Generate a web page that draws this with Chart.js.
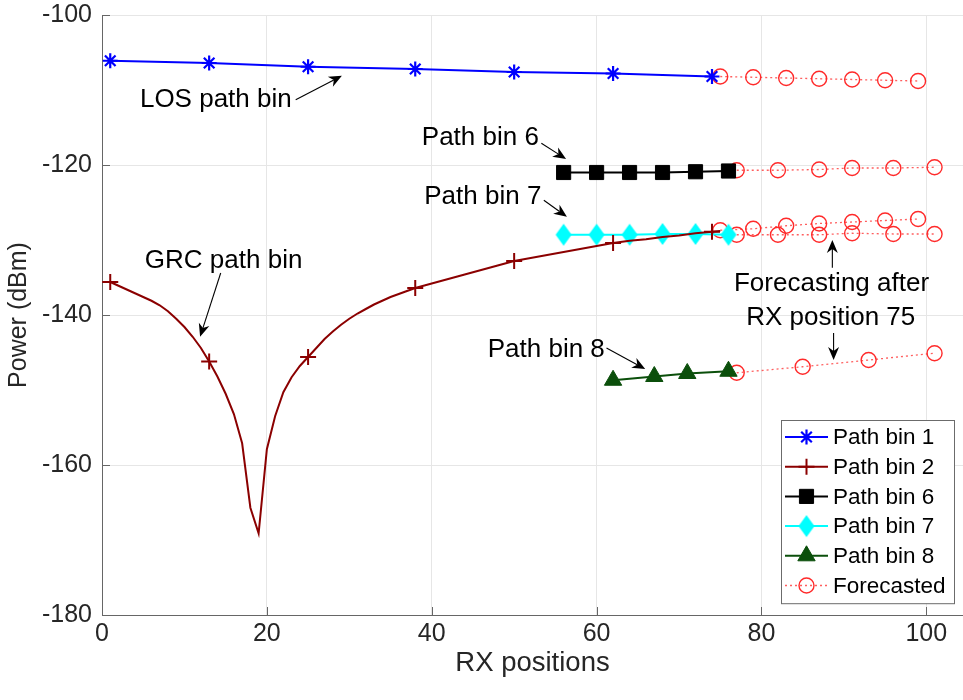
<!DOCTYPE html>
<html>
<head>
<meta charset="utf-8">
<script src="https://cdn.jsdelivr.net/npm/chart.js@4.4.1/dist/chart.umd.min.js"></script>
<style>
  html, body { margin: 0; background: #fff; }
  canvas { display: block; }
</style>
</head>
<body>
<canvas id="c" width="963" height="700"></canvas>
<script>
  // ---------- data ----------
  var xTicks = [0, 20, 40, 60, 80, 100];
  var yTicks = [-180, -160, -140, -120, -100];

  // Path bin 1 (LOS)
  var bin1X = [1, 13, 25, 38, 50, 62, 74];
  var bin1Y = [-106.1, -106.4, -106.9, -107.2, -107.6, -107.8, -108.2];

  // Path bin 2 (GRC) - dense curve, markers only at some positions
  var grcX = [1, 2, 3, 4, 5, 6, 7, 8, 9, 10, 11, 12, 13, 14, 15, 16, 17, 18, 19, 20,
              21, 22, 23, 24, 25, 26, 27, 28, 29, 30, 31, 32, 33, 34, 35, 36, 37, 38, 39, 40,
              42, 44, 46, 48, 50, 52, 54, 56, 58, 60, 62, 64, 66, 68, 70, 72, 74, 75];
  var grcY = [-135.6, -136.1, -136.6, -137.1, -137.6, -138.1, -138.7, -139.5, -140.5, -141.6,
              -142.9, -144.4, -146.2, -148.2, -150.5, -153.2, -157.1, -165.7, -169.1, -157.9,
              -153.5, -150.3, -148.3, -146.8, -145.6, -144.4, -143.2, -142.2, -141.3, -140.5,
              -139.8, -139.2, -138.6, -138.1, -137.6, -137.2, -136.8, -136.4, -136.1, -135.8,
              -135.2, -134.6, -134.0, -133.4, -132.8, -132.4, -132.0, -131.6, -131.2, -130.8,
              -130.4, -130.1, -129.9, -129.6, -129.4, -129.1, -128.9, -128.8];
  var grcMarkX = [1, 13, 25, 38, 50, 62, 74];

  // Path bins 6, 7, 8
  var bin6X = [56, 60, 64, 68, 72, 76];
  var bin6Y = [-121.0, -121.0, -121.0, -121.0, -120.9, -120.8];
  var bin7X = [56, 60, 64, 68, 72, 76];
  var bin7Y = [-129.3, -129.3, -129.3, -129.2, -129.2, -129.3];
  var bin8X = [62, 67, 71, 76];
  var bin8Y = [-148.7, -148.2, -147.8, -147.5];

  // Forecasted values after RX position 75
  var fc1X = [75, 79, 83, 87, 91, 95, 99];
  var fc1Y = [-108.2, -108.3, -108.4, -108.5, -108.6, -108.7, -108.8];
  var fc2X = [75, 79, 83, 87, 91, 95, 99];
  var fc2Y = [-128.7, -128.5, -128.1, -127.8, -127.6, -127.4, -127.2];
  var fc6X = [77, 82, 87, 91, 96, 101];
  var fc6Y = [-120.7, -120.7, -120.6, -120.4, -120.4, -120.3];
  var fc7X = [77, 82, 87, 91, 96, 101];
  var fc7Y = [-129.3, -129.3, -129.3, -129.1, -129.2, -129.2];
  var fc8X = [77, 85, 93, 101];
  var fc8Y = [-147.7, -146.9, -146.0, -145.1];

  // annotations (data coordinates)
  var notes = [
    { text: "LOS path bin", x: 4.6, y: -111.3, align: "left" },
    { text: "Path bin 6", x: 53.0, y: -116.4, align: "right" },
    { text: "Path bin 7", x: 53.3, y: -124.3, align: "right" },
    { text: "GRC path bin", x: 5.2, y: -132.8, align: "left" },
    { text: "Forecasting after", x: 88.5, y: -135.9, align: "center" },
    { text: "RX position 75", x: 88.4, y: -140.4, align: "center" },
    { text: "Path bin 8", x: 61.0, y: -144.7, align: "right" }
  ];
  var arrows = [
    { x0: 23.5, y0: -111.3, x1: 29.1, y1: -108.1 },
    { x0: 53.3, y0: -117.1, x1: 56.3, y1: -119.2 },
    { x0: 53.6, y0: -124.7, x1: 56.4, y1: -126.9 },
    { x0: 14.4, y0: -134.4, x1: 11.9, y1: -142.9 },
    { x0: 88.6, y0: -133.7, x1: 88.6, y1: -130.0 },
    { x0: 88.75, y0: -142.4, x1: 88.75, y1: -146.0 },
    { x0: 61.2, y0: -144.4, x1: 65.9, y1: -147.2 }
  ];

  // ---------- helpers ----------
  var $ = function (id) { return document.getElementById(id); };
  function pts(xs, ys) { return xs.map(function (x, i) { return { x: x, y: ys[i] }; }); }
  var FONT = "'Liberation Sans', Arial, Helvetica, sans-serif";
  var INK = "#262626";

  // tall diamond marker like MATLAB's 'd'
  var diamond = document.createElement("canvas");
  diamond.width = 18; diamond.height = 24;
  (function (g) {
    g.fillStyle = "#00ffff";
    g.beginPath(); g.moveTo(9, 1); g.lineTo(17, 12); g.lineTo(9, 23); g.lineTo(1, 12); g.closePath(); g.fill();
  })(diamond.getContext("2d"));

  function forecast(xs, ys, inLegend) {
    return {
      label: "Forecasted", legend: inLegend, data: pts(xs, ys),
      borderColor: "rgba(255,40,40,0.75)", borderWidth: 1.3, borderDash: [2, 3],
      pointStyle: "circle", pointRadius: 7.5, pointBorderColor: "#ff2a2a",
      pointBorderWidth: 1.4, pointBackgroundColor: "rgba(0,0,0,0)"
    };
  }

  var datasets = [
    { label: "Path bin 1", legend: true, data: pts(bin1X, bin1Y),
      borderColor: "#0000ff", borderWidth: 2, pointStyle: "star", pointRadius: 7.5,
      pointBorderColor: "#0000ff", pointBorderWidth: 2.2, pointBackgroundColor: "#0000ff" },
    { label: "Path bin 2", legend: true, data: pts(grcX, grcY),
      borderColor: "#8b0000", borderWidth: 2, pointStyle: "cross",
      pointRadius: function (c) { return c.raw && grcMarkX.indexOf(c.raw.x) >= 0 ? 8 : 0; },
      pointBorderColor: "#8b0000", pointBorderWidth: 2, pointBackgroundColor: "#8b0000" },
    { label: "Path bin 6", legend: true, data: pts(bin6X, bin6Y),
      borderColor: "#000", borderWidth: 2, pointStyle: "rect", pointRadius: 10,
      pointBorderColor: "#000", pointBorderWidth: 1, pointBackgroundColor: "#000" },
    { label: "Path bin 7", legend: true, data: pts(bin7X, bin7Y),
      borderColor: "#00ffff", borderWidth: 2, pointStyle: diamond, pointRadius: 10,
      pointBorderColor: "#00ffff", pointBorderWidth: 1, pointBackgroundColor: "#00ffff" },
    { label: "Path bin 8", legend: true, data: pts(bin8X, bin8Y),
      borderColor: "#0b4f0b", borderWidth: 2, pointStyle: "triangle", pointRadius: 10,
      pointBorderColor: "#0b4f0b", pointBorderWidth: 1, pointBackgroundColor: "#0b4f0b" },
    forecast(fc1X, fc1Y, true),
    forecast(fc2X, fc2Y, false),
    forecast(fc6X, fc6Y, false),
    forecast(fc7X, fc7Y, false),
    forecast(fc8X, fc8Y, false)
  ];
  datasets.forEach(function (d) { d.showLine = true; d.tension = 0; d.fill = false; });

  /* ---------- inward ticks, annotations, legend ---------- */
  var extras = {
    id: "extras",
    afterDraw: function (chart) {
      var ctx = chart.ctx, a = chart.chartArea, sx = chart.scales.x, sy = chart.scales.y;
      ctx.save();
      // inward tick marks
      ctx.strokeStyle = "#666"; ctx.lineWidth = 1;
      xTicks.forEach(function (v) {
        var p = Math.round(sx.getPixelForValue(v)) + 0.5;
        ctx.beginPath(); ctx.moveTo(p, a.bottom); ctx.lineTo(p, a.bottom - 8); ctx.stroke();
      });
      yTicks.forEach(function (v) {
        var p = Math.round(sy.getPixelForValue(v)) + 0.5;
        ctx.beginPath(); ctx.moveTo(a.left, p); ctx.lineTo(a.left + 8, p); ctx.stroke();
      });

      // annotation texts
      ctx.fillStyle = "#000";
      ctx.font = "26px " + FONT;
      ctx.textBaseline = "middle";
      notes.forEach(function (n) {
        ctx.textAlign = n.align;
        ctx.fillText(n.text, sx.getPixelForValue(n.x), sy.getPixelForValue(n.y));
      });
      // arrows
      arrows.forEach(function (r) {
        var x0 = sx.getPixelForValue(r.x0), y0 = sy.getPixelForValue(r.y0);
        var x1 = sx.getPixelForValue(r.x1), y1 = sy.getPixelForValue(r.y1);
        var ang = Math.atan2(y1 - y0, x1 - x0), L = 13, W = 5.5;
        var bx = x1 - L * Math.cos(ang), by = y1 - L * Math.sin(ang);
        var nx = x1 - L * 0.7 * Math.cos(ang), ny = y1 - L * 0.7 * Math.sin(ang);
        ctx.strokeStyle = "#000"; ctx.lineWidth = 1.1;
        ctx.beginPath(); ctx.moveTo(x0, y0); ctx.lineTo(nx, ny); ctx.stroke();
        ctx.beginPath();
        ctx.moveTo(x1, y1);
        ctx.lineTo(bx + W * Math.sin(ang), by - W * Math.cos(ang));
        ctx.lineTo(nx, ny);
        ctx.lineTo(bx - W * Math.sin(ang), by + W * Math.cos(ang));
        ctx.closePath(); ctx.fillStyle = "#000"; ctx.fill();
      });

      // legend box (bottom right)
      var items = chart.data.datasets.filter(function (d) { return d.legend; });
      var bx0 = 781, by0 = 420, bw = 173, rowH = 29.7;
      ctx.fillStyle = "#fff";
      ctx.fillRect(bx0, by0, bw, items.length * rowH + 5);
      ctx.strokeStyle = "#6b6b6b"; ctx.lineWidth = 1;
      ctx.strokeRect(bx0 + 0.5, by0 + 0.5, bw, items.length * rowH + 5);
      ctx.font = "22.5px " + FONT; ctx.textAlign = "left"; ctx.textBaseline = "middle";
      items.forEach(function (d, i) {
        var y = by0 + 17 + i * rowH;
        ctx.save();
        ctx.strokeStyle = d.borderColor; ctx.lineWidth = d.borderWidth;
        ctx.setLineDash(d.borderDash || []);
        ctx.beginPath(); ctx.moveTo(bx0 + 4, y); ctx.lineTo(bx0 + 47, y); ctx.stroke();
        ctx.setLineDash([]);
        ctx.strokeStyle = d.pointBorderColor; ctx.fillStyle = d.pointBackgroundColor;
        ctx.lineWidth = d.pointBorderWidth;
        var r = typeof d.pointRadius === "function" ? 8 : d.pointRadius;
        Chart.helpers.drawPoint(ctx, { pointStyle: d.pointStyle, radius: r, rotation: 0,
          borderWidth: d.pointBorderWidth }, bx0 + 25.5, y);
        ctx.restore();
        ctx.fillStyle = "#000";
        ctx.fillText(d.label, bx0 + 52, y + 1);
      });
      ctx.restore();
    }
  };

  new Chart($("c"), {
    type: "scatter",
    data: { datasets: datasets },
    options: {
      responsive: false, animation: false,
      layout: { autoPadding: false, padding: { top: 15, right: 0, left: 0, bottom: 0 } },
      plugins: { legend: { display: false }, tooltip: { enabled: false } },
      scales: {
        x: {
          type: "linear", min: 0, max: 104.45,
          afterBuildTicks: function (s) { s.ticks = xTicks.map(function (v) { return { value: v }; }); },
          afterFit: function (s) { s.height = 85; s.paddingLeft = 0; s.paddingRight = 0; },
          grid: { color: "#e6e6e6", drawTicks: false },
          border: { color: "#666", width: 1 },
          ticks: { color: INK, font: { family: FONT, size: 25 }, padding: 4, maxRotation: 0 },
          title: { display: true, text: "RX positions", color: INK, font: { family: FONT, size: 27.5 },
            padding: { top: 0, bottom: 20 } }
        },
        y: {
          type: "linear", min: -180, max: -100,
          afterBuildTicks: function (s) { s.ticks = yTicks.map(function (v) { return { value: v }; }); },
          afterFit: function (s) { s.width = 102; s.paddingTop = 0; s.paddingBottom = 0; },
          grid: { color: "#e6e6e6", drawTicks: false },
          border: { color: "#666", width: 1 },
          ticks: { color: INK, font: { family: FONT, size: 25 }, padding: 10,
            callback: function (v) { return String(v); } },
          title: { display: true, text: "Power (dBm)", color: INK, font: { family: FONT, size: 25 }, padding: { top: 4 } }
        }
      }
    },
    plugins: [extras]
  });
</script>
</body>
</html>
